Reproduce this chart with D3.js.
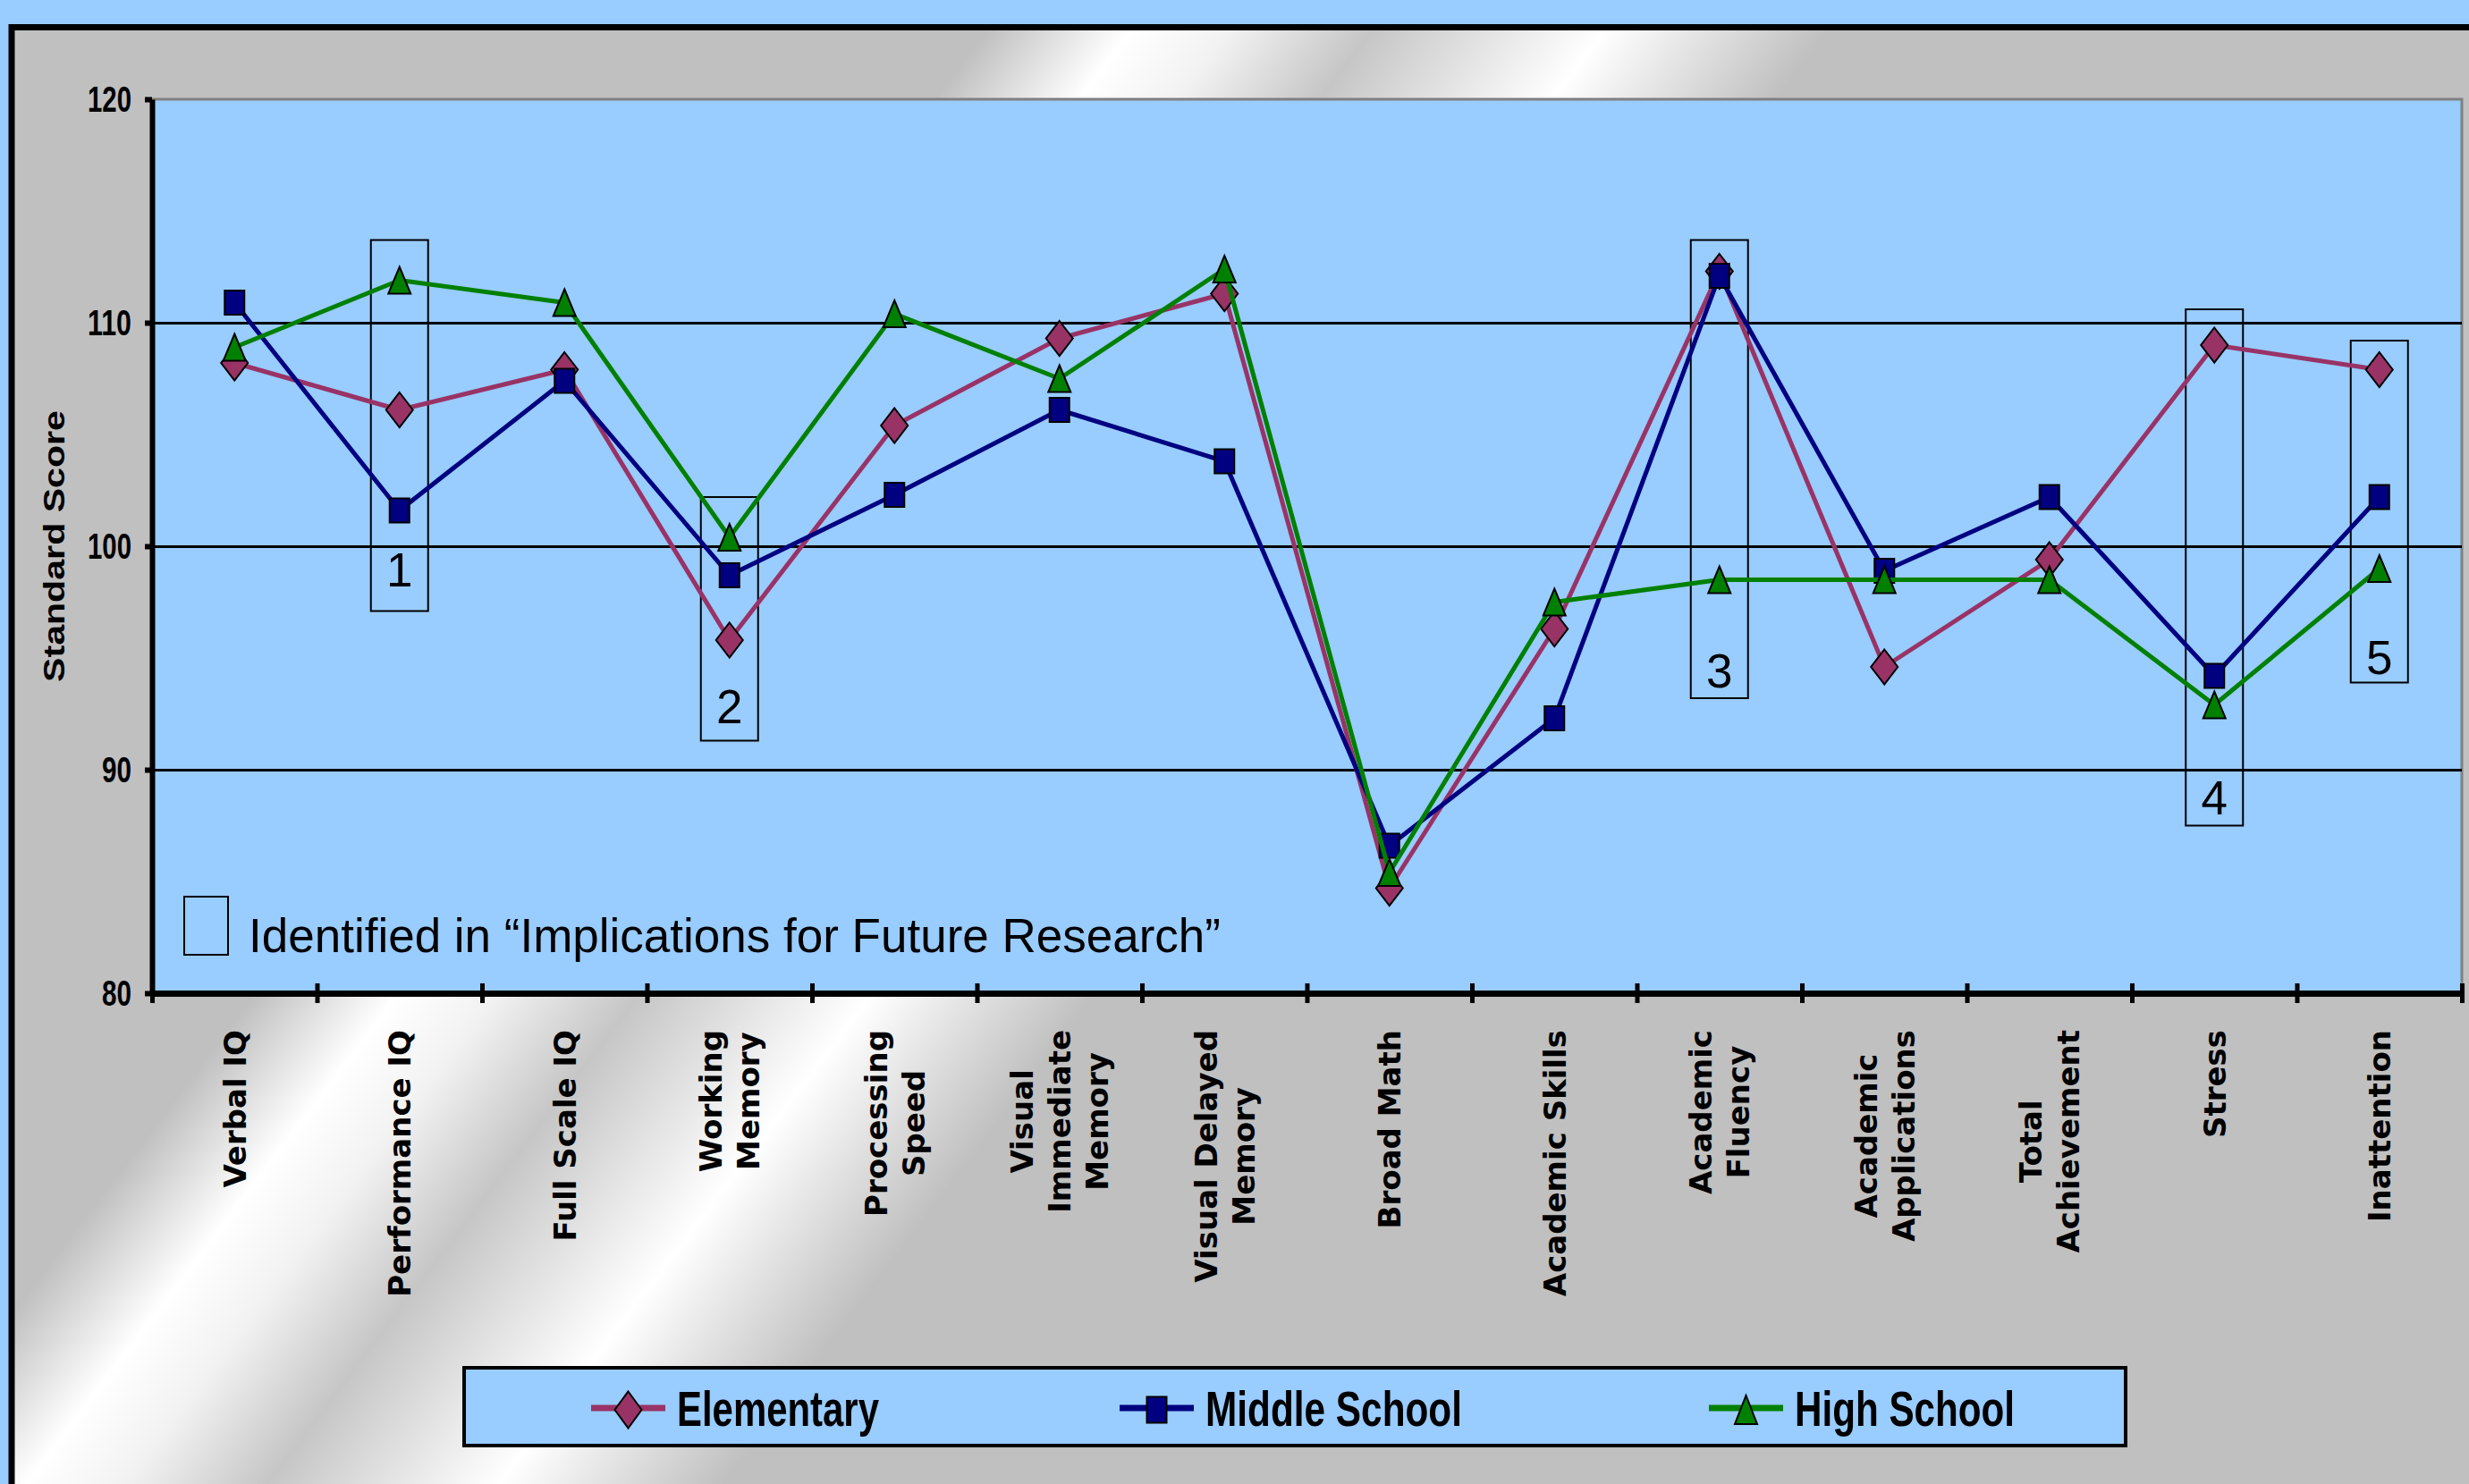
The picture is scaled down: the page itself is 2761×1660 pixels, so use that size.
<!DOCTYPE html>
<html>
<head>
<meta charset="utf-8">
<script src="https://cdn.jsdelivr.net/npm/d3@7"></script>
<style>
  html, body { margin: 0; padding: 0; background: #99CCFF; overflow: hidden; }
  svg { display: block; }
</style>
</head>
<body>
<svg id="chart" width="2761" height="1660"></svg>
<script>
// ---- data ----
const categories = ["Verbal IQ", "Performance IQ", "Full Scale IQ", "Working Memory",
  "Processing Speed", "Visual Immediate Memory", "Visual Delayed Memory", "Broad Math",
  "Academic Skills", "Academic Fluency", "Academic Applications", "Total Achievement",
  "Stress", "Inattention"];
const categoryLines = [["Verbal IQ"], ["Performance IQ"], ["Full Scale IQ"], ["Working", "Memory"],
  ["Processing", "Speed"], ["Visual", "Immediate", "Memory"], ["Visual Delayed", "Memory"], ["Broad Math"],
  ["Academic Skills"], ["Academic", "Fluency"], ["Academic", "Applications"], ["Total", "Achievement"],
  ["Stress"], ["Inattention"]];

const elementary = [108.2, 106.1, 107.9, 95.8, 105.4, 109.3, 111.3, 84.7, 96.3, 112.3, 94.6, 99.4, 109.0, 107.9];
const middleSchool = [110.9, 101.6, 107.4, 98.7, 102.3, 106.1, 103.8, 86.6, 92.3, 112.1, 98.9, 102.2, 94.2, 102.2];
const highSchool = [108.9, 111.9, 110.9, 100.4, 110.4, 107.5, 112.4, 85.4, 97.5, 98.5, 98.5, 98.5, 92.9, 99.0];

const seriesNames = ["Elementary", "Middle School", "High School"];
const yTicks = [80, 90, 100, 110, 120];
const gridValues = [90, 100, 110];

// highlighted measures: category, box top/bottom score, number and its baseline score
const boxCategories = ["Performance IQ", "Working Memory", "Academic Fluency", "Stress", "Inattention"];
const boxTop = [113.7, 102.2, 113.7, 110.6, 109.2];
const boxBottom = [97.1, 91.3, 93.2, 87.5, 93.9];
const boxLabels = ["1", "2", "3", "4", "5"];
const boxLabelAt = [98.2, 92.1, 93.7, 88.0, 94.3];

const noteText = "Identified in \u201CImplications for Future Research\u201D";

// ---- styling ----
const colors = ["#993366", "#000080", "#008000"];
const shapes = ["diamond", "square", "triangle"];
const markerSize = { diamond: [30, 39], square: [22, 27], triangle: [25, 30] };

const svg = d3.select("#chart");
const W = 2761, H = 1660;
const plot = { left: 170, right: 2753, top: 111, bottom: 1111 };

// ---- chrome-style chart background ----
const defs = svg.append("defs");
const L = 4000, k = 0.76;
const grad = defs.append("linearGradient")
  .attr("id", "chrome").attr("gradientUnits", "userSpaceOnUse")
  .attr("x1", 0).attr("y1", 0)
  .attr("x2", L / (1 + k * k)).attr("y2", k * L / (1 + k * k));
[[0, "#c0c0c0"], [1130, "#c0c0c0"], [1290, "#ffffff"], [1400, "#f2f2f2"], [1560, "#c6c6c6"],
 [1820, "#ffffff"], [2070, "#c0c0c0"], [4000, "#c0c0c0"]]
  .forEach(([p, c]) => grad.append("stop").attr("offset", p / L).attr("stop-color", c));

svg.append("rect").attr("width", W).attr("height", H).attr("fill", "#99CCFF");
svg.append("rect")
  .attr("x", 13).attr("y", 30.5).attr("width", 2820).attr("height", 1700)
  .attr("fill", "url(#chrome)").attr("stroke", "#000").attr("stroke-width", 7);

// ---- scales ----
const x = d3.scaleBand().domain(categories).range([plot.left, plot.right]);
const xEdge = d3.scaleLinear().domain([0, categories.length]).range([plot.left, plot.right]);
const y = d3.scaleLinear().domain([80, 120]).range([plot.bottom, plot.top]);
const cx = c => x(c) + x.bandwidth() / 2;

// plot area
svg.append("rect")
  .attr("x", plot.left).attr("y", plot.top)
  .attr("width", plot.right - plot.left).attr("height", plot.bottom - plot.top)
  .attr("fill", "#99CCFF").attr("stroke", "#808080").attr("stroke-width", 3);

// gridlines
svg.append("g")
  .attr("transform", `translate(${plot.left},0)`)
  .call(d3.axisLeft(y).tickValues(gridValues).tickSize(-(plot.right - plot.left)).tickFormat(""))
  .call(g => g.select(".domain").remove())
  .selectAll(".tick line").attr("stroke", "#000").attr("stroke-width", 3);

// y axis
const yAxis = svg.append("g")
  .attr("transform", `translate(${plot.left},0)`)
  .call(d3.axisLeft(y).tickValues(yTicks).tickSize(8).tickSizeOuter(0).tickPadding(15));
yAxis.select(".domain").attr("stroke", "#000").attr("stroke-width", 6);
yAxis.selectAll(".tick line").attr("stroke", "#000").attr("stroke-width", 6);
yAxis.selectAll(".tick text")
  .attr("fill", "#000")
  .style("font-family", "'Liberation Sans', Arial, sans-serif")
  .style("font-weight", "bold").style("font-size", "41px")
  .attr("textLength", d => String(d).length === 3 ? 49 : 33)
  .attr("lengthAdjust", "spacingAndGlyphs");

svg.append("text")
  .attr("transform", "translate(72,611) rotate(-90)")
  .attr("text-anchor", "middle")
  .style("font-family", "'Liberation Sans', Arial, sans-serif")
  .style("font-weight", "bold").style("font-size", "34px")
  .attr("textLength", 304).attr("lengthAdjust", "spacingAndGlyphs")
  .text("Standard Score");

// x axis (ticks on category boundaries)
const xAxis = svg.append("g")
  .attr("transform", `translate(0,${plot.bottom})`)
  .call(d3.axisBottom(xEdge).tickValues(d3.range(categories.length + 1)).tickSize(11).tickSizeOuter(0).tickFormat(""));
xAxis.select(".domain").attr("stroke", "#000").attr("stroke-width", 7);
xAxis.selectAll(".tick line").attr("y1", -11).attr("y2", 11).attr("stroke", "#000").attr("stroke-width", 5);

// category labels, rotated
const labelFont = "bold 34px 'DejaVu Sans'";
const labelG = svg.append("g").style("font-family", "'DejaVu Sans', Verdana, sans-serif")
  .style("font-weight", "bold").style("font-size", "34px");
categories.forEach((c, i) => {
  const lines = categoryLines[i];
  const grp = labelG.append("g");
  const texts = lines.map((t, j) => grp.append("text").attr("text-anchor", "middle").text(t));
  const maxLen = d3.max(texts, t => t.node().getComputedTextLength());
  const centerY = 1152 + maxLen / 2;
  texts.forEach((t, j) => {
    const off = (j - (lines.length - 1) / 2) * 42;
    t.attr("transform", `translate(${cx(c) + off + 12.4},${centerY}) rotate(-90)`);
  });
});

// ---- annotation boxes ----
const boxW = 64;
const boxG = svg.append("g");
boxCategories.forEach((c, i) => {
  boxG.append("rect")
    .attr("x", cx(c) - boxW / 2).attr("y", y(boxTop[i]))
    .attr("width", boxW).attr("height", y(boxBottom[i]) - y(boxTop[i]))
    .attr("fill", "none").attr("stroke", "#000").attr("stroke-width", 2);
  boxG.append("text")
    .attr("x", cx(c)).attr("y", y(boxLabelAt[i]))
    .attr("text-anchor", "middle")
    .style("font-family", "'Liberation Sans', Arial, sans-serif").style("font-size", "53px")
    .text(boxLabels[i]);
});

// note inside plot
svg.append("rect").attr("x", 206).attr("y", 1003).attr("width", 49).attr("height", 65)
  .attr("fill", "none").attr("stroke", "#000").attr("stroke-width", 2);
svg.append("text").attr("x", 278).attr("y", 1065)
  .style("font-family", "'Liberation Sans', Arial, sans-serif").style("font-size", "53px")
  .text(noteText);

// ---- series ----
function markerPath(shape, w, h) {
  if (shape === "diamond") return `M0,${-h / 2}L${w / 2},0L0,${h / 2}L${-w / 2},0Z`;
  if (shape === "square") return `M${-w / 2},${-h / 2}h${w}v${h}h${-w}Z`;
  return `M0,${-h / 2}L${w / 2},${h / 2}L${-w / 2},${h / 2}Z`;
}

const series = [elementary, middleSchool, highSchool].map((vals, i) => ({
  name: seriesNames[i], color: colors[i], shape: shapes[i],
  points: categories.map((c, j) => ({ c, v: vals[j] }))
}));

const line = d3.line().x(d => cx(d.c)).y(d => y(d.v));
series.forEach(s => {
  const g = svg.append("g");
  g.append("path").datum(s.points).attr("d", line)
    .attr("fill", "none").attr("stroke", s.color).attr("stroke-width", 5)
    .attr("stroke-linejoin", "round");
  const [mw, mh] = markerSize[s.shape];
  g.selectAll("path.m").data(s.points).join("path").attr("class", "m")
    .attr("transform", d => `translate(${cx(d.c)},${y(d.v)})`)
    .attr("d", markerPath(s.shape, mw, mh))
    .attr("fill", s.color).attr("stroke", "#000").attr("stroke-width", 2)
    .attr("stroke-linejoin", "miter");
});

// ---- legend ----
const lg = svg.append("g");
lg.append("rect").attr("x", 519).attr("y", 1530).attr("width", 1858).attr("height", 87)
  .attr("fill", "#99CCFF").attr("stroke", "#000").attr("stroke-width", 4);
const legendLineX = [661, 1252, 1911];
const legendTextLen = [226, 287, 246];
series.forEach((s, i) => {
  const x0 = legendLineX[i];
  lg.append("line").attr("x1", x0).attr("x2", x0 + 83).attr("y1", 1575).attr("y2", 1575)
    .attr("stroke", s.color).attr("stroke-width", 7);
  const [mw, mh] = markerSize[s.shape];
  lg.append("path").attr("transform", `translate(${x0 + 41.5},1577)`)
    .attr("d", markerPath(s.shape, mw, mh + 2))
    .attr("fill", s.color).attr("stroke", "#000").attr("stroke-width", 2);
  lg.append("text").attr("x", x0 + 96).attr("y", 1595)
    .style("font-family", "'Liberation Sans', Arial, sans-serif")
    .style("font-weight", "bold").style("font-size", "56px")
    .attr("textLength", legendTextLen[i]).attr("lengthAdjust", "spacingAndGlyphs")
    .text(s.name);
});
</script>
</body>
</html>
